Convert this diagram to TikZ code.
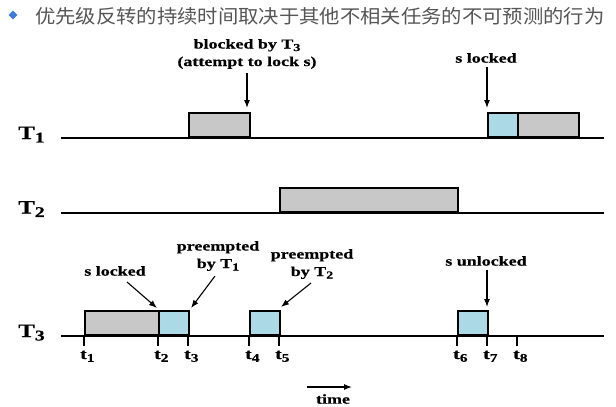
\documentclass[tikz,border=0pt]{standalone}
\usepackage{fontspec}
\setmainfont{Liberation Serif}
\newfontfamily\cjkf[FakeStretch=1.07]{Noto Sans CJK SC}
\newfontfamily\labf[FakeStretch=1.32,FakeBold=0.6]{Liberation Serif}
\usetikzlibrary{shapes.geometric,arrows.meta,calc}
\definecolor{boxgray}{HTML}{C8C8C8}
\definecolor{boxblue}{HTML}{ABDAE6}
\definecolor{titlegray}{HTML}{555555}
\definecolor{bulletblue}{HTML}{3B7BD9}
\newcommand\subx[1]{\raisebox{-0.4ex}{\scalebox{0.78}{#1}}}
\tikzset{
  tline/.style={line width=2pt},
  gbox/.style={draw, line width=2pt, fill=boxgray, anchor=south west, inner sep=0, minimum height=24pt},
  bbox/.style={gbox, fill=boxblue},
  ann/.style={font=\labf\bfseries\fontsize{13.6}{17.5}\selectfont, align=center, inner sep=1pt},
  tlab/.style={font=\labf\bfseries\fontsize{19}{21}\selectfont, anchor=base west, inner sep=0},
  tickm/.style={line width=1.3pt},
  tt/.style={font=\labf\bfseries\fontsize{15}{17}\selectfont, inner sep=0, anchor=base west},
  arr/.style={line width=1.1pt, -{Latex[length=8pt,width=6pt]}},
}
\begin{document}
\begin{tikzpicture}[x=1pt,y=-1pt]
\useasboundingbox (0,0) rectangle (616,407);
% title
\node[diamond, fill=bulletblue, minimum size=9pt, inner sep=0] (bul) at (13,15) {};
\node[anchor=west, inner sep=0, text=titlegray, font=\cjkf\fontsize{19}{22}\selectfont] (title) at (35,16) {优先级反转的持续时间取决于其他不相关任务的不可预测的行为};
% task labels
\node[tlab] (T1) at (18,139) {T\subx{1}};
\node[tlab] (T2) at (18,213.5) {T\subx{2}};
\node[tlab] (T3) at (18,337) {T\subx{3}};
% time lines
\coordinate (l1a) at (61,138);  \coordinate (l1b) at (604,138);
\coordinate (l2a) at (61,212.5);\coordinate (l2b) at (604,212.5);
\coordinate (l3a) at (61,336);  \coordinate (l3b) at (604,336);
\draw[tline] (l1a) -- (l1b);
\draw[tline] (l2a) -- (l2b);
\draw[tline] (l3a) -- (l3b);
% ticks
\foreach \x/\n in {84/1,158/2,188/3,249/4,279/5,457/6,487/7,517/8}{
  \draw[tickm] (\x,336) -- (\x,346);
  \node[tt] (t\n) at (\x-4,359) {t\subx{\n}};
}
% T1 boxes
\node[gbox, minimum width=61pt] (a1) at (188,138) {};
\node[bbox, minimum width=30pt] (a2) at (487,138) {};
\node[gbox, minimum width=61pt] (a3) at (517,138) {};
% T2 box
\node[gbox, minimum width=178pt] (b1) at (279,212.5) {};
% T3 boxes
\node[gbox, minimum width=74pt] (c1) at (84,336) {};
\node[bbox, minimum width=30pt] (c2) at (158,336) {};
\node[bbox, minimum width=30pt] (c3) at (249,336) {};
\node[bbox, minimum width=30pt] (c4) at (457,336) {};
% annotations
\node[ann] (n1) at (247,54) {blocked by T\subx{3}\\(attempt to lock s)};
\node[ann] (n2) at (486,58) {s locked};
\node[ann] (n3) at (115,271) {s locked};
\node[ann] (n4) at (218,256) {preempted\\by T\subx{1}};
\node[ann] (n5) at (312,264) {preempted\\by T\subx{2}};
\node[ann] (n6) at (486,261) {s unlocked};
\node[ann] (tm) at (333,399) {time};
% arrow ends
\coordinate (e1) at (247,108);
\coordinate (e2) at (487,108);
\coordinate (s3) at (127,282); \coordinate (e3) at (157,308);
\coordinate (s4) at (215,276); \coordinate (e4) at (191,308);
\coordinate (s5) at (311,283); \coordinate (e5) at (281,307);
\coordinate (e6) at (487,307);
\coordinate (ts) at (307,387); \coordinate (te) at (352,387);
\draw[arr] (n1.south -| e1) ++(0,3) -- (e1);
\draw[arr] (n2.south -| e2) ++(0,3) -- (e2);
\draw[arr] (s3) -- (e3);
\draw[arr] (s4) -- (e4);
\draw[arr] (s5) -- (e5);
\draw[arr] (n6.south -| e6) ++(0,3) -- (e6);
\draw[arr] (ts) -- (te);
\end{tikzpicture}
\end{document}
